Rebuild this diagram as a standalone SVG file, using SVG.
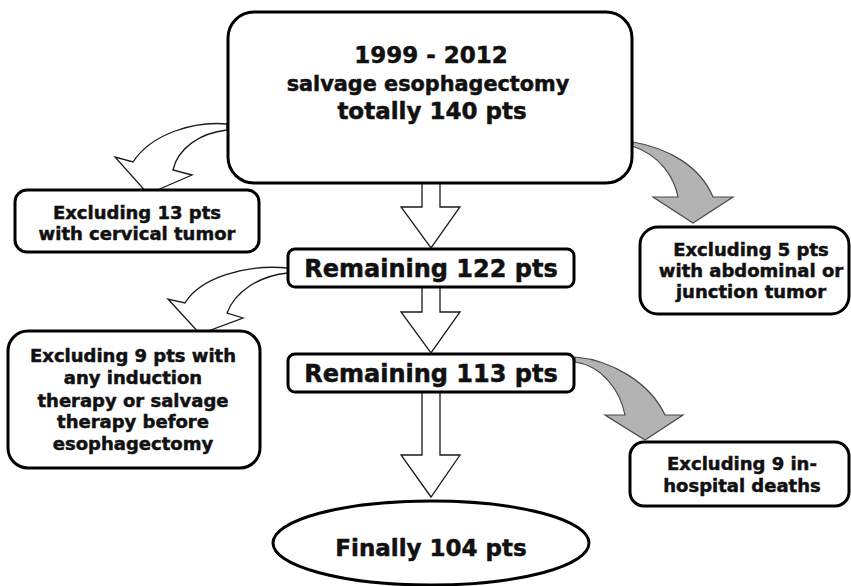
<svg xmlns="http://www.w3.org/2000/svg" width="851" height="586" viewBox="0 0 851 586">
<style>
.box{fill:#fff;stroke:#000;stroke-width:3}
.wa{fill:#fff;stroke:#1a1a1a;stroke-width:1.3;stroke-linejoin:miter}
.ga{fill:#b3b3b3;stroke:#4a4a4a;stroke-width:1.2}
text{font-family:"DejaVu Sans","Verdana",sans-serif;font-weight:bold;fill:#111;stroke:#111;stroke-width:0.5;text-anchor:middle}
.t18{font-size:18px}
.t24{font-size:24px}
</style>
<rect width="851" height="586" fill="#fff"/>
<g id="connectors">
<path class="wa" d="M227,124 C195,121 152,133 133,162 L115,157 L148,194 L192,175 L173,170 C178,148 200,133 227,130 Z"/>
<path class="wa" d="M288,268 C245,264 200,278 185,303 L168,299 L200,334 L243,318 L227,313 C235,292 258,276 288,273 Z"/>
<path class="ga" d="M633,142 C668,148 700,166 713,197 L733,197 L693,223 L653,197 L678,197 C674,177 660,155 632,146 Z"/>
<path class="ga" d="M575,357 C612,360 650,383 665,415 L683,415 L645,440 L605,415 L625,415 C620,390 602,366 575,362 Z"/>
<polygon class="wa" points="422,183 422,207 401,207 431,248 460,207 440,207 440,183"/>
<polygon class="wa" points="422,287 422,312 401,312 431,353 460,312 440,312 440,287"/>
<polygon class="wa" points="422,392 422,455 401,455 431,497 460,455 440,455 440,392"/>
</g>
<g id="n_top">
<rect class="box" x="228" y="12" width="404" height="171" rx="26"/>
<text x="431" y="63" style="font-size:23px">1999 - 2012</text>
<text x="428" y="91" style="font-size:20.8px">salvage esophagectomy</text>
<text x="432" y="119" style="font-size:23px">totally 140 pts</text>
</g>
<g id="n_excl13">
<rect class="box" x="15" y="190" width="244" height="62" rx="12"/>
<text class="t18" x="137" y="219">Excluding 13 pts</text>
<text class="t18" x="137" y="240">with cervical tumor</text>
</g>
<g id="n_excl5">
<rect class="box" x="640" y="227" width="209" height="87" rx="18"/>
<text class="t18" x="751" y="256">Excluding 5 pts</text>
<text class="t18" x="751" y="277">with abdominal or</text>
<text class="t18" x="751" y="298">junction tumor</text>
</g>
<g id="n_rem122">
<rect class="box" x="288" y="249" width="286" height="38" rx="7"/>
<text class="t24" x="431" y="277">Remaining 122 pts</text>
</g>
<g id="n_excl9a">
<rect class="box" x="8" y="331" width="252" height="137" rx="20"/>
<text class="t18" x="133" y="362">Excluding 9 pts with</text>
<text class="t18" x="133" y="384">any induction</text>
<text class="t18" x="133" y="407">therapy or salvage</text>
<text class="t18" x="133" y="428">therapy before</text>
<text class="t18" x="133" y="450">esophagectomy</text>
</g>
<g id="n_rem113">
<rect class="box" x="288" y="354" width="286" height="38" rx="7"/>
<text class="t24" x="431" y="382">Remaining 113 pts</text>
</g>
<g id="n_excl9b">
<rect class="box" x="630" y="442" width="219" height="64" rx="14"/>
<text class="t18" x="742" y="470">Excluding 9 in-</text>
<text class="t18" x="742" y="492">hospital deaths</text>
</g>
<g id="n_final">
<ellipse class="box" cx="431" cy="543" rx="158" ry="42"/>
<text x="431" y="556" style="font-size:23px">Finally 104 pts</text>
</g>
</svg>
